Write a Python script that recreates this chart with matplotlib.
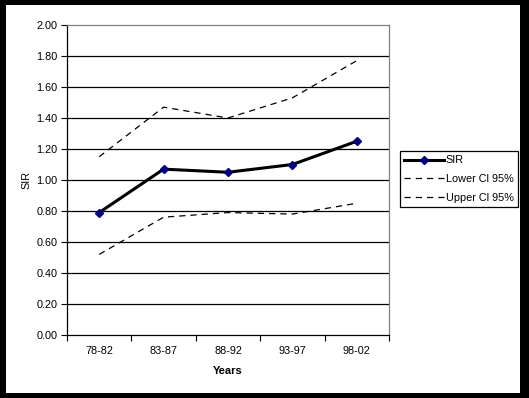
import numpy as np
import matplotlib
matplotlib.use('Agg')
from matplotlib import pyplot as plt
from matplotlib.patches import Rectangle

plt.rcParams['font.family'] = ['Liberation Sans', 'DejaVu Sans']

periods = ['78-82', '83-87', '88-92', '93-97', '98-02']
sir = [0.79, 1.07, 1.05, 1.10, 1.25]
lower_ci = [0.52, 0.76, 0.79, 0.78, 0.85]
upper_ci = [1.15, 1.47, 1.40, 1.53, 1.77]
y_ticks = [0.0, 0.2, 0.4, 0.6, 0.8, 1.0, 1.2, 1.4, 1.6, 1.8, 2.0]

W, H = 529, 398
fig = plt.figure(figsize=(W / 100, H / 100), dpi=100)
fig.patch.set_facecolor('black')
# white chart area inside black frame
fig.patches.append(Rectangle((6 / W, 5 / H), (520 - 6) / W, (393 - 5) / H,
                             transform=fig.transFigure, facecolor='white',
                             edgecolor='none', zorder=-10))

ax = fig.add_axes([67 / W, (H - 335) / H, (389 - 67) / W, (335 - 25) / H])
ax.set_facecolor('white')

x = np.arange(len(periods))
ax.plot(x, sir, color='black', lw=2.2, marker='D', ms=4,
        mfc='#000080', mec='#000080', label='SIR', zorder=4)
ax.plot(x, lower_ci, color='black', lw=0.9, ls=(0, (5, 4)),
        label='Lower Cl 95%', zorder=3)
ax.plot(x, upper_ci, color='black', lw=0.9, ls=(0, (5, 4)),
        label='Upper Cl 95%', zorder=3)

ax.set_xlim(-0.5, len(periods) - 0.5)
ax.set_ylim(0, 2.0)
ax.set_yticks(y_ticks)
ax.set_yticklabels([f'{v:.2f}' for v in y_ticks])
ax.set_xticks(x)
ax.set_xticklabels(periods)
ax.set_xticks(np.arange(-0.5, len(periods)), minor=True)
ax.tick_params(axis='x', which='major', length=0, pad=8, labelsize=7.8)
ax.tick_params(axis='x', which='minor', length=4, width=0.8, direction='out')
ax.tick_params(axis='y', length=4, width=0.8, direction='out', pad=3, labelsize=7.8)

for v in y_ticks[1:-1]:
    ax.axhline(v, color='black', lw=0.9, zorder=1)

ax.spines['left'].set_color('black')
ax.spines['bottom'].set_color('black')
ax.spines['top'].set_color('#808080')
ax.spines['right'].set_color('#808080')
for s in ax.spines.values():
    s.set_linewidth(0.9)

ax.set_ylabel('SIR', fontsize=7.8, labelpad=3)
ax.set_xlabel('Years', fontsize=8, fontweight='bold', labelpad=7)

leg = ax.legend(loc='upper left', bbox_to_anchor=(400 / W, (H - 151) / H),
                bbox_transform=fig.transFigure, fontsize=7.8, frameon=True,
                fancybox=False, edgecolor='black', framealpha=1,
                handlelength=3.7, handletextpad=0.1, labelspacing=0.8,
                borderpad=0.4, borderaxespad=0)
leg.get_frame().set_linewidth(0.9)

fig.savefig('out.png', dpi=100, facecolor=fig.get_facecolor())
